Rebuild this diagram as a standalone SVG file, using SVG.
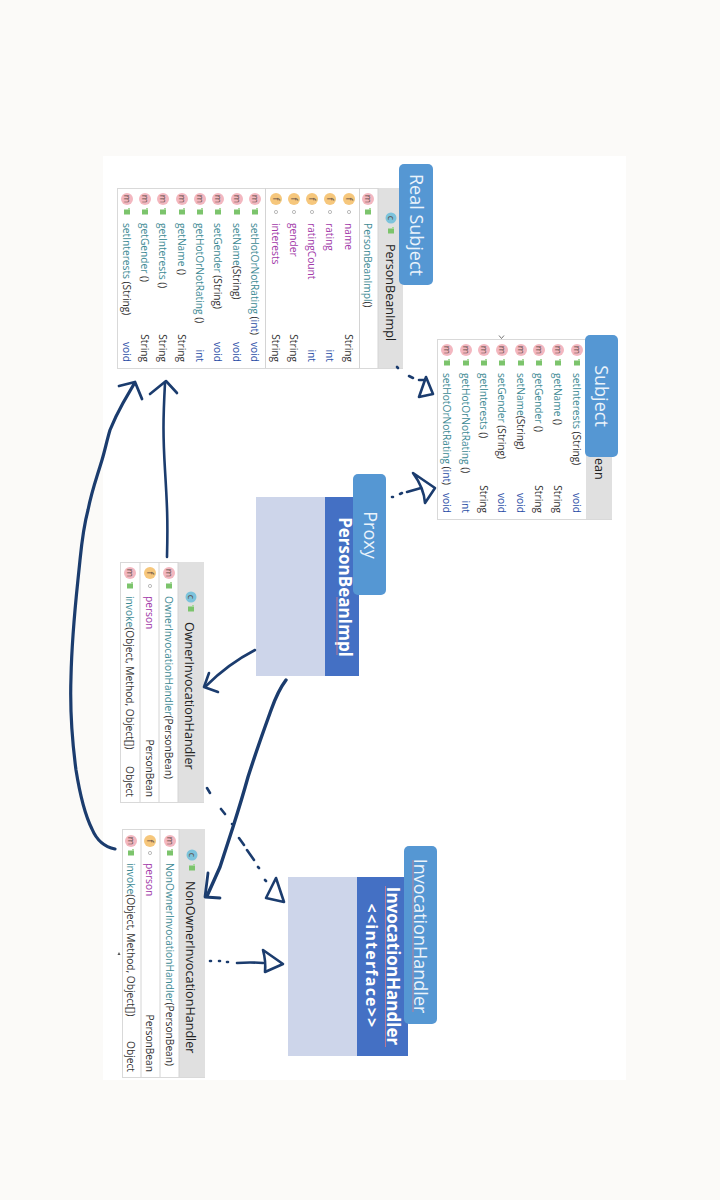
<svg xmlns="http://www.w3.org/2000/svg" width="720" height="1200" viewBox="0 0 720 1200">
<style>
text{font-family:"Open Sans","Noto Sans","Liberation Sans",sans-serif}
.b{fill:#fff;stroke:#d9d9d9;stroke-width:1}
.h{fill:#e0e0e0}
.l{stroke:#d4d4d4;stroke-width:1}
.cm{fill:#f3b7c0}.cf{fill:#f6c77c}.cc{fill:#7cc3dc}
.ic{font-size:9px;fill:#5a4a44;text-anchor:middle}
.r{font-size:10.2px;fill:#333}
.e{text-anchor:end}
.t{fill:#3d8a94}.p{fill:#a23aa9}.k{fill:#2b4ea6}
.hd{font-size:12.6px;fill:#222}
.lab{fill:#5597d3}
.lt{font-size:18px;fill:#eaf3fb;text-anchor:middle}
.bd{font-weight:700;fill:#fff;text-anchor:middle}
.ink{fill:none;stroke:#1b3c6e;stroke-width:2.6;stroke-linecap:round;stroke-linejoin:round}
.sp{stroke:#d9788c;stroke-width:.8;fill:none}
</style>
<defs>
<g id="lock"><rect x="-3" y="-2.5" width="6" height="5" fill="#7cc46c"/><path d="M1 -4h2v2h-2z" fill="#a9d99d"/></g>
<circle id="dot" r="1.6" fill="#fff" stroke="#aaa" stroke-width=".8"/>
</defs>
<rect width="720" height="1200" fill="#fbfaf8"/>
<rect x="103" y="156" width="523" height="924" fill="#fff"/>

<g id="node-real-subject">
<rect class="b" x="117.500" y="188.500" width="285" height="180"/>
<rect class="h" x="378" y="188" width="25" height="180"/>
<path class="l" d="M265.500 188V368M359.500 188V368M378 188V368"/>
<circle class="cc" cx="391" cy="218" r="5.500"/><text class="ic" transform="translate(388,218) rotate(90)">c</text>
<use href="#lock" x="391" y="231"/>
<text class="hd" transform="translate(386,244) rotate(90)">PersonBeanImpl</text>
<circle class="cm" cx="368" cy="199" r="6"/><text class="ic" transform="translate(365,199) rotate(90)">m</text><use href="#lock" x="368" y="212"/>
<text class="r" transform="translate(364,223) rotate(90)"><tspan class="t">PersonBeanImpl</tspan>()</text>
<circle class="cf" cx="349" cy="199" r="6"/><text class="ic" transform="translate(346,199) rotate(90)">f</text><use href="#dot" x="349" y="212"/>
<text class="r" transform="translate(345,223) rotate(90)"><tspan class="p">name</tspan></text><text class="r e" transform="translate(345,362) rotate(90)">String</text>
<circle class="cf" cx="330" cy="199" r="6"/><text class="ic" transform="translate(327,199) rotate(90)">f</text><use href="#dot" x="330" y="212"/>
<text class="r" transform="translate(326,223) rotate(90)"><tspan class="p">rating</tspan></text><text class="r e k" transform="translate(326,362) rotate(90)">int</text>
<circle class="cf" cx="312" cy="199" r="6"/><text class="ic" transform="translate(309,199) rotate(90)">f</text><use href="#dot" x="312" y="212"/>
<text class="r" transform="translate(308,223) rotate(90)"><tspan class="p">ratingCount</tspan></text><text class="r e k" transform="translate(308,362) rotate(90)">int</text>
<circle class="cf" cx="294" cy="199" r="6"/><text class="ic" transform="translate(291,199) rotate(90)">f</text><use href="#dot" x="294" y="212"/>
<text class="r" transform="translate(290,223) rotate(90)"><tspan class="p">gender</tspan></text><text class="r e" transform="translate(290,362) rotate(90)">String</text>
<circle class="cf" cx="276" cy="199" r="6"/><text class="ic" transform="translate(273,199) rotate(90)">f</text><use href="#dot" x="276" y="212"/>
<text class="r" transform="translate(272,223) rotate(90)"><tspan class="p">interests</tspan></text><text class="r e" transform="translate(272,362) rotate(90)">String</text>
<circle class="cm" cx="255" cy="199" r="6"/><text class="ic" transform="translate(252,199) rotate(90)">m</text><use href="#lock" x="255" y="212"/>
<text class="r" transform="translate(251,223) rotate(90)"><tspan class="t">setHotOrNotRating</tspan> (<tspan class="k">int</tspan>)</text><text class="r e k" transform="translate(251,362) rotate(90)">void</text>
<circle class="cm" cx="237" cy="199" r="6"/><text class="ic" transform="translate(234,199) rotate(90)">m</text><use href="#lock" x="237" y="212"/>
<text class="r" transform="translate(233,223) rotate(90)"><tspan class="t">setName</tspan>(String)</text><text class="r e k" transform="translate(233,362) rotate(90)">void</text>
<circle class="cm" cx="218" cy="199" r="6"/><text class="ic" transform="translate(215,199) rotate(90)">m</text><use href="#lock" x="218" y="212"/>
<text class="r" transform="translate(214,223) rotate(90)"><tspan class="t">setGender</tspan> (String)</text><text class="r e k" transform="translate(214,362) rotate(90)">void</text>
<circle class="cm" cx="200" cy="199" r="6"/><text class="ic" transform="translate(197,199) rotate(90)">m</text><use href="#lock" x="200" y="212"/>
<text class="r" transform="translate(196,223) rotate(90)"><tspan class="t">getHotOrNotRating</tspan> ()</text><text class="r e k" transform="translate(196,362) rotate(90)">int</text>
<circle class="cm" cx="182" cy="199" r="6"/><text class="ic" transform="translate(179,199) rotate(90)">m</text><use href="#lock" x="182" y="212"/>
<text class="r" transform="translate(178,223) rotate(90)"><tspan class="t">getName</tspan> ()</text><text class="r e" transform="translate(178,362) rotate(90)">String</text>
<circle class="cm" cx="163" cy="199" r="6"/><text class="ic" transform="translate(160,199) rotate(90)">m</text><use href="#lock" x="163" y="212"/>
<text class="r" transform="translate(159,223) rotate(90)"><tspan class="t">getInterests</tspan> ()</text><text class="r e" transform="translate(159,362) rotate(90)">String</text>
<circle class="cm" cx="145" cy="199" r="6"/><text class="ic" transform="translate(142,199) rotate(90)">m</text><use href="#lock" x="145" y="212"/>
<text class="r" transform="translate(141,223) rotate(90)"><tspan class="t">getGender</tspan> ()</text><text class="r e" transform="translate(141,362) rotate(90)">String</text>
<circle class="cm" cx="127" cy="199" r="6"/><text class="ic" transform="translate(124,199) rotate(90)">m</text><use href="#lock" x="127" y="212"/>
<text class="r" transform="translate(123,223) rotate(90)"><tspan class="t">setInterests</tspan> (String)</text><text class="r e k" transform="translate(123,362) rotate(90)">void</text>
<rect class="lab" x="399" y="164" width="34" height="121" rx="5"/>
<text class="lt" transform="translate(410,225) rotate(90)">Real Subject</text>
</g>

<g id="node-subject">
<rect class="b" x="437.500" y="339.500" width="174" height="180"/>
<rect class="h" x="586" y="339" width="26" height="180"/>
<path d="M499 335.500l2.500 3 2.500-3" fill="none" stroke="#555" stroke-width=".8"/>
<text class="hd" transform="translate(595,458) rotate(90)">ean</text>
<circle class="cm" cx="577" cy="350" r="6"/><text class="ic" transform="translate(574,350) rotate(90)">m</text><use href="#lock" x="577" y="363"/>
<text class="r" transform="translate(573,373) rotate(90)"><tspan class="t">setInterests</tspan> (String)</text><text class="r e k" transform="translate(573,513) rotate(90)">void</text>
<circle class="cm" cx="558" cy="350" r="6"/><text class="ic" transform="translate(555,350) rotate(90)">m</text><use href="#lock" x="558" y="363"/>
<text class="r" transform="translate(554,373) rotate(90)"><tspan class="t">getName</tspan> ()</text><text class="r e" transform="translate(554,513) rotate(90)">String</text>
<circle class="cm" cx="539" cy="350" r="6"/><text class="ic" transform="translate(536,350) rotate(90)">m</text><use href="#lock" x="539" y="363"/>
<text class="r" transform="translate(535,373) rotate(90)"><tspan class="t">getGender</tspan> ()</text><text class="r e" transform="translate(535,513) rotate(90)">String</text>
<circle class="cm" cx="521" cy="350" r="6"/><text class="ic" transform="translate(518,350) rotate(90)">m</text><use href="#lock" x="521" y="363"/>
<text class="r" transform="translate(517,373) rotate(90)"><tspan class="t">setName</tspan>(String)</text><text class="r e k" transform="translate(517,513) rotate(90)">void</text>
<circle class="cm" cx="502" cy="350" r="6"/><text class="ic" transform="translate(499,350) rotate(90)">m</text><use href="#lock" x="502" y="363"/>
<text class="r" transform="translate(498,373) rotate(90)"><tspan class="t">setGender</tspan> (String)</text><text class="r e k" transform="translate(498,513) rotate(90)">void</text>
<circle class="cm" cx="484" cy="350" r="6"/><text class="ic" transform="translate(481,350) rotate(90)">m</text><use href="#lock" x="484" y="363"/>
<text class="r" transform="translate(480,373) rotate(90)"><tspan class="t">getInterests</tspan> ()</text><text class="r e" transform="translate(480,513) rotate(90)">String</text>
<circle class="cm" cx="466" cy="350" r="6"/><text class="ic" transform="translate(463,350) rotate(90)">m</text><use href="#lock" x="466" y="363"/>
<text class="r" transform="translate(462,373) rotate(90)"><tspan class="t">getHotOrNotRating</tspan> ()</text><text class="r e k" transform="translate(462,513) rotate(90)">int</text>
<circle class="cm" cx="447" cy="350" r="6"/><text class="ic" transform="translate(444,350) rotate(90)">m</text><use href="#lock" x="447" y="363"/>
<text class="r" transform="translate(443,373) rotate(90)"><tspan class="t">setHotOrNotRating</tspan> (<tspan class="k">int</tspan>)</text><text class="r e k" transform="translate(443,513) rotate(90)">void</text>
<rect class="lab" x="585" y="335" width="33" height="122" rx="5"/>
<text class="lt" transform="translate(595,396) rotate(90)">Subject</text>
</g>

<g id="node-proxy">
<rect x="256" y="497" width="69" height="179" fill="#cdd5ea"/>
<rect x="325" y="497" width="34" height="179" fill="#4470c4"/>
<text class="bd" font-size="17" transform="translate(339,587) rotate(90)">PersonBeanImpl</text>
<path class="sp" d="M337 597V655"/>
<rect class="lab" x="353" y="474" width="33" height="121" rx="5"/>
<text class="lt" transform="translate(364,535) rotate(90)">Proxy</text>
</g>

<g id="node-owner">
<rect class="b" x="120.500" y="562.500" width="83" height="240"/>
<rect class="h" x="178" y="562" width="26" height="240"/>
<path class="l" d="M140 562V802M159 562V802M178 562V802"/>
<circle class="cc" cx="191" cy="597" r="5.500"/><text class="ic" transform="translate(188,597) rotate(90)">c</text>
<use href="#lock" x="191" y="609"/>
<text class="hd" transform="translate(185,622) rotate(90)">OwnerInvocationHandler</text>
<circle class="cm" cx="169" cy="573" r="6"/><text class="ic" transform="translate(166,573) rotate(90)">m</text><use href="#lock" x="169" y="586"/>
<text class="r" transform="translate(165,596) rotate(90)"><tspan class="t">OwnerInvocationHandler</tspan>(PersonBean)</text>
<circle class="cf" cx="150" cy="573" r="6"/><text class="ic" transform="translate(147,573) rotate(90)">f</text><use href="#dot" x="150" y="586"/>
<text class="r" transform="translate(146,596) rotate(90)"><tspan class="p">person</tspan></text><text class="r e" transform="translate(146,797) rotate(90)">PersonBean</text>
<circle class="cm" cx="130" cy="573" r="6"/><text class="ic" transform="translate(127,573) rotate(90)">m</text><use href="#lock" x="130" y="586"/>
<text class="r" transform="translate(126,596) rotate(90)"><tspan class="t">invoke</tspan>(Object, Method, Object[])</text><text class="r e" transform="translate(126,797) rotate(90)">Object</text>
</g>

<g id="node-nonowner">
<rect class="b" x="122.500" y="829.500" width="82" height="248"/>
<rect class="h" x="179" y="829" width="26" height="248"/>
<path class="l" d="M141 829V1077M160 829V1077M179 829V1077"/>
<circle class="cc" cx="192" cy="855" r="5.500"/><text class="ic" transform="translate(189,855) rotate(90)">c</text>
<use href="#lock" x="192" y="868"/>
<text class="hd" transform="translate(186,881) rotate(90)">NonOwnerInvocationHandler</text>
<circle class="cm" cx="170" cy="841" r="6"/><text class="ic" transform="translate(167,841) rotate(90)">m</text><use href="#lock" x="170" y="853"/>
<text class="r" transform="translate(166,863) rotate(90)"><tspan class="t">NonOwnerInvocationHandler</tspan>(PersonBean)</text>
<circle class="cf" cx="150" cy="841" r="6"/><text class="ic" transform="translate(147,841) rotate(90)">f</text><use href="#dot" x="150" y="853"/>
<text class="r" transform="translate(146,863) rotate(90)"><tspan class="p">person</tspan></text><text class="r e" transform="translate(146,1072) rotate(90)">PersonBean</text>
<circle class="cm" cx="131" cy="841" r="6"/><text class="ic" transform="translate(128,841) rotate(90)">m</text><use href="#lock" x="131" y="853"/>
<text class="r" transform="translate(127,863) rotate(90)"><tspan class="t">invoke</tspan>(Object, Method, Object[])</text><text class="r e" transform="translate(127,1072) rotate(90)">Object</text>
<path d="M119 952l-1.500 3h3z" fill="#555"/>
</g>

<g id="node-invocation">
<rect x="288" y="877" width="69" height="179" fill="#cdd5ea"/>
<rect x="357" y="877" width="51" height="179" fill="#4470c4"/>
<text class="bd" font-size="17" transform="translate(387,966) rotate(90)">InvocationHandler</text>
<text class="bd" font-size="16" letter-spacing="1.200" transform="translate(366,966) rotate(90)">&lt;&lt;interface&gt;&gt;</text>
<path class="sp" d="M385.500 886V1047"/>
<rect class="lab" x="404" y="846" width="33" height="178" rx="5"/>
<text class="lt" transform="translate(414,936) rotate(90)">InvocationHandler</text>
<path class="sp" d="M413 860V1012"/>
</g>

<g id="connectors" class="ink">
<path d="M397 367l1 1M409 376l4 2M419 380l6 0"/>
<path d="M426 377L433 394L419 397Z"/>
<path d="M392 497l1 0M400 494l2-1M407 492Q414 490 421 488"/>
<path d="M413 473L435 488L425 503Q424 488 413 473Z"/>
<path d="M255 650Q228 664 206 686"/>
<path d="M209 673L204 687L218 692"/>
<path d="M286 680C277 692 274 702 270 713C262 735 255 755 248 777C243 795 240 805 233 827C228 842 224 855 220 867L207 896" stroke-width="3.400"/>
<path d="M208 873L205 897L220 898" stroke-width="2.800"/>
<path d="M207 788l3 5M221 809l4 5M232 824l0 0M239 838l5 7M247 850l7 10M258 867l1 1M265 880l1 1"/>
<path d="M276 878L284 902L266 898Z"/>
<path d="M210 961l1 0M219 961l1 0M227 962l1 0M237 963Q250 962 263 963"/>
<path d="M263 950L283 964L265 972Q266 961 263 950Z"/>
<path d="M167 557C168 520 167 503 165 470C163 437 163 420 165 383"/>
<path d="M150 394L166 381L177 393"/>
<path d="M115 849C105 847 97 841 92 829C85 815 80 795 76 770C72 740 70 705 71 677C72 630 76 600 80 560C82 540 84 525 88 510C92 490 96 480 102 460C105 450 107 440 110 430C114 420 118 412 123 403L134 384" stroke-width="3.200"/>
<path d="M119 386L135 382L142 399" stroke-width="2.800"/>
</g>
</svg>
